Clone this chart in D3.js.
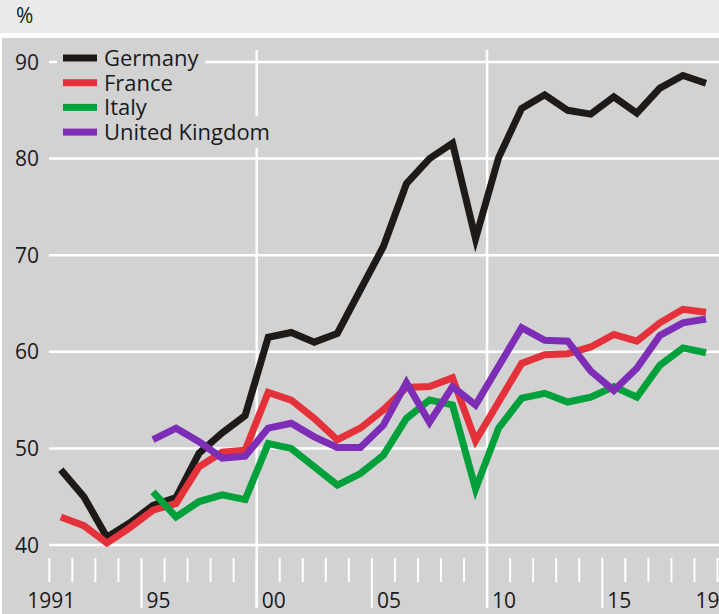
<!DOCTYPE html>
<html>
<head>
<meta charset="utf-8">
<script src="https://cdn.jsdelivr.net/npm/d3@7"></script>
<style>
  body { margin: 0; background: #fff; }
  svg { display: block; font-family: "Open Sans", sans-serif; }
</style>
</head>
<body>
<div id="chart"></div>
<script>
// Data (share in %)
const years = d3.range(1991, 2020);
const germany = [47.8, 45.0, 40.8, 42.3, 44.1, 44.9, 49.5, 51.6, 53.4, 61.5, 62.0, 61.0, 61.9, 66.4, 70.9, 77.4, 80.0, 81.6, 71.7, 80.1, 85.2, 86.6, 85.0, 84.6, 86.4, 84.7, 87.3, 88.6, 87.8];
const france = [42.9, 42.0, 40.2, 41.8, 43.6, 44.3, 48.1, 49.6, 49.8, 55.8, 55.0, 53.1, 50.9, 52.1, 54.0, 56.3, 56.4, 57.3, 50.8, 54.8, 58.8, 59.7, 59.8, 60.5, 61.8, 61.1, 63.0, 64.4, 64.1];
const italyYears = d3.range(1995, 2020);
const italy = [45.5, 42.9, 44.5, 45.2, 44.7, 50.5, 50.0, 48.1, 46.2, 47.4, 49.3, 53.1, 55.0, 54.5, 45.8, 52.1, 55.2, 55.7, 54.8, 55.3, 56.4, 55.3, 58.6, 60.4, 59.9];
const ukYears = d3.range(1995, 2020);
const uk = [50.9, 52.1, 50.7, 49.0, 49.2, 52.1, 52.6, 51.2, 50.1, 50.1, 52.4, 56.8, 52.7, 56.4, 54.5, 58.5, 62.5, 61.2, 61.1, 58.0, 56.0, 58.3, 61.7, 63.0, 63.4];

const yTicks = [40, 50, 60, 70, 80, 90];
const xTickYears = d3.range(1991, 2021);
const majorYears = [1995, 2000, 2005, 2010, 2015];
const gridYears = [2000, 2010];
const xLabels = [
  { year: 1991, text: "1991" },
  { year: 1995, text: "95" },
  { year: 2000, text: "00" },
  { year: 2005, text: "05" },
  { year: 2010, text: "10" },
  { year: 2015, text: "15" },
  { year: 2019, text: "19" },
];

const series = [
  { name: "Germany", years: years, values: germany, color: "#1d1a18" },
  { name: "France", years: years, values: france, color: "#e5313a" },
  { name: "Italy", years: italyYears, values: italy, color: "#00a03b" },
  { name: "United Kingdom", years: ukYears, values: uk, color: "#7e2db6" },
];

const W = 719, H = 614;
const bg = "#d2d2d2";

const svg = d3.select("#chart").append("svg")
  .attr("width", W)
  .attr("height", H);

// Header band and plot background
svg.append("rect").attr("x", 0).attr("y", 0).attr("width", W).attr("height", 33).attr("fill", "#eaeaea");
svg.append("rect").attr("x", 0).attr("y", 33).attr("width", W).attr("height", 5).attr("fill", "#fff");
svg.append("rect").attr("x", 0).attr("y", 38).attr("width", W).attr("height", H - 38).attr("fill", bg);
svg.append("rect").attr("x", 0).attr("y", 38).attr("width", 2).attr("height", H - 38).attr("fill", "#fff");

svg.append("text")
  .attr("x", 16).attr("y", 23)
  .attr("font-size", 21).attr("fill", "#1a1a1a")
  .text("%");

// Scales
const x = d3.scaleLinear().domain([1991, 2020]).range([49.3, 717.5]);
const y = d3.scaleLinear().domain([40, 90]).range([545, 62]);

// Horizontal gridlines + y labels
svg.append("g").selectAll("line").data(yTicks).join("line")
  .attr("x1", 49).attr("x2", W)
  .attr("y1", d => y(d)).attr("y2", d => y(d))
  .attr("stroke", "#fff").attr("stroke-width", 2.5);

svg.append("g").selectAll("text").data(yTicks).join("text")
  .attr("x", 39).attr("y", d => y(d))
  .attr("dy", "0.36em")
  .attr("text-anchor", "end")
  .attr("font-size", 21).attr("fill", "#1a1a1a")
  .text(d => d);

// Vertical gridlines at 2000 and 2010
svg.append("g").selectAll("line").data(gridYears).join("line")
  .attr("x1", d => x(d)).attr("x2", d => x(d))
  .attr("y1", 50).attr("y2", 608)
  .attr("stroke", "#fff").attr("stroke-width", 2.5);

// x ticks (year boundaries)
svg.append("g").selectAll("line").data(xTickYears).join("line")
  .attr("x1", d => x(d)).attr("x2", d => x(d))
  .attr("y1", 558)
  .attr("y2", d => majorYears.includes(d) ? 608 : 582)
  .attr("stroke", "#fff").attr("stroke-width", 2);

svg.append("g").selectAll("text").data(xLabels).join("text")
  .attr("x", d => d.year === 1991 ? x(d.year) + 2 : d.year === 2019 ? x(d.year) + 1 : x(d.year) + 5)
  .attr("y", 608)
  .attr("text-anchor", d => d.year === 1991 ? "middle" : "start")
  .attr("font-size", 21).attr("fill", "#1a1a1a")
  .text(d => d.text);

// Lines, points at mid-year
const line = d3.line()
  .x(d => x(d[0] + 0.5))
  .y(d => y(d[1]));

svg.append("g").selectAll("path").data(series).join("path")
  .attr("d", s => line(s.years.map((yr, i) => [yr, s.values[i]])))
  .attr("fill", "none")
  .attr("stroke", s => s.color)
  .attr("stroke-width", 7)
  .attr("stroke-linejoin", "miter")
  .attr("stroke-miterlimit", 6);

// Legend
const legend = svg.append("g");
const rowY = i => 58 + i * 24.7;
const items = legend.selectAll("g").data(series).join("g");
const labels = items.append("text")
  .attr("x", 104).attr("y", (d, i) => rowY(i))
  .attr("dy", "0.36em")
  .attr("font-size", 22).attr("fill", "#1a1a1a")
  .text(d => d.name);
// background patches behind legend text so gridlines break around it
labels.each(function (d, i) {
  const b = this.getBBox();
  legend.insert("rect", ":first-child")
    .attr("x", 57).attr("y", rowY(i) - 16)
    .attr("width", b.x + b.width + 6 - 57).attr("height", 32)
    .attr("fill", bg);
});
items.append("rect")
  .attr("x", 63).attr("y", (d, i) => rowY(i) - 3.5)
  .attr("width", 34).attr("height", 7)
  .attr("fill", d => d.color);
</script>
</body>
</html>
